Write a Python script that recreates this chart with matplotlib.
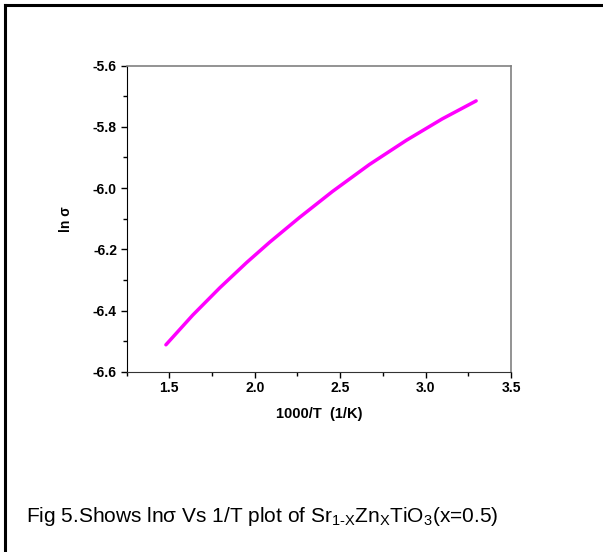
import numpy as np
import matplotlib
matplotlib.use("Agg")
import matplotlib.pyplot as plt
from matplotlib.ticker import MultipleLocator

plt.rcParams['font.family'] = ['Liberation Sans', 'DejaVu Sans']
plt.rcParams['mathtext.fontset'] = 'custom'
plt.rcParams['mathtext.rm'] = 'Liberation Sans'
plt.rcParams['mathtext.it'] = 'Liberation Sans'

# data
inv_T = [1.48, 1.637, 1.795, 1.953, 2.087, 2.262, 2.455, 2.671, 2.887, 3.097, 3.296]
ln_sigma = [-6.512, -6.415, -6.326, -6.243, -6.177, -6.096, -6.011, -5.923, -5.844, -5.774, -5.715]

x_ticks = [1.5, 2.0, 2.5, 3.0, 3.5]
y_ticks = [-6.6, -6.4, -6.2, -6.0, -5.8, -5.6]

fig = plt.figure(figsize=(6.03, 5.52), dpi=100)
ax = fig.add_axes([0.210, 0.3266, 0.6374, 0.5544])

ax.plot(inv_T, ln_sigma, color='#FF00FF', lw=2.5, solid_capstyle='round',
        solid_joinstyle='round')

ax.set_xlim(1.25, 3.5)
ax.set_ylim(-6.6, -5.6)
ax.set_xticks(x_ticks)
ax.set_yticks(y_ticks)
ax.xaxis.set_minor_locator(MultipleLocator(0.25))
ax.yaxis.set_minor_locator(MultipleLocator(0.1))
ax.set_xticklabels([f"{v:.1f}" for v in x_ticks], fontweight='bold', fontsize=10)
ax.set_yticklabels([f"{v:.1f}" for v in y_ticks], fontweight='bold', fontsize=10)
ax.tick_params(which='major', direction='out', length=4, width=1, pad=3)
ax.tick_params(which='minor', direction='out', length=3, width=1)

ax.spines['left'].set_color('black')
ax.spines['bottom'].set_color('#333333')
for s in ['top', 'right']:
    ax.spines[s].set_color('#808080')
    ax.spines[s].set_linewidth(1.2)

ax.set_xlabel("1000/T  (1/K)", fontweight='bold', fontsize=10.5, labelpad=8)
ax.set_ylabel("ln σ", fontweight='bold', fontsize=10, labelpad=14)

# outer frame (left and top only visible)
fig.add_artist(plt.Line2D([0.0083, 0.0083], [0, 0.991], color='black', lw=2.2, transform=fig.transFigure))
fig.add_artist(plt.Line2D([0.0083, 1.0], [0.991, 0.991], color='black', lw=2.2, transform=fig.transFigure))

fig.text(26 / 603, 1 - 517 / 552,
         r"Fig 5.Shows lnσ Vs 1/T plot of Sr$_{\mathrm{1\text{-}X}}$Zn$_{\mathrm{X}}$TiO$_{\mathrm{3}}$(x=0.5)",
         fontsize=15, va='center', ha='left')

fig.savefig("out.png", dpi=100)
